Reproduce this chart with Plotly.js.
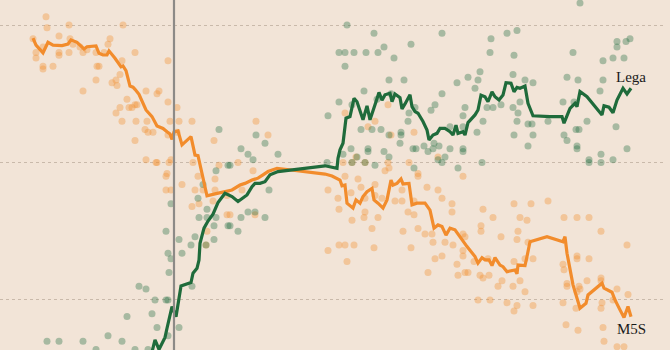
<!DOCTYPE html>
<html>
<head>
<meta charset="utf-8">
<script src="https://cdn.plot.ly/plotly-3.0.1.min.js"></script>
<style>html,body{margin:0;padding:0;background:#f2e4d7;}#chart{width:670px;height:350px;}</style>
</head>
<body>
<div id="chart"></div>
<script>
// x = days since the 4 March 2018 general election, y = voting intention (%)
const electionDay = 0;
const gridValues = [20, 25, 30];

const m5sAvgDays = [-141,-138,-131,-126,-121,-112,-106,-103,-97,-90,-87,-78,-75,-71,-67,-65,-59,-53,-51,-48,-44,-41,-39,-35,-28,-22,-17,-11,-7,-4,-2,0,4,8,17,21,24,28,30,33,41,51,58,66,71,78,84,89,94,103,111,124,141,151,158,166,168,171,173,177,179,182,186,189,193,198,200,204,209,213,217,219,223,227,229,235,238,243,251,256,260,264,268,272,276,281,289,293,301,304,308,311,315,318,321,326,329,333,341,343,344,351,353,356,373,389,391,393,399,404,406,412,414,428,430,438,441,446,450,454,457];
const m5sAvg = [29.52,29.27,28.99,29.37,29.27,29.25,29.31,29.46,29.37,29.13,29.21,29.24,28.97,28.91,28.91,29.06,28.79,28.48,28.51,28.34,27.78,27.74,27.66,27.48,26.91,26.67,26.33,26.24,26.12,26.04,25.84,26.11,26.15,25.64,25.94,25.27,25.25,24.55,24.24,23.79,23.86,23.94,24.0,24.18,24.24,24.36,24.43,24.55,24.67,24.79,24.76,24.7,24.63,24.58,24.51,24.36,24.15,24.18,23.52,23.39,23.34,23.64,23.52,23.76,23.94,24.06,23.64,23.52,23.34,23.64,24.36,24.18,24.24,24.4,24.22,24.24,23.46,23.52,23.52,23.27,22.61,22.73,22.67,22.36,22.61,22.55,22.12,21.94,21.58,21.34,21.54,21.46,21.46,21.25,21.54,21.27,21.21,21.03,21.09,20.95,21.27,21.25,21.58,22.12,22.3,22.12,22.3,21.7,20.55,20.0,19.7,19.88,20.18,20.61,20.43,20.28,20.0,19.64,19.36,19.76,19.39];

const legaAvgDays = [-23,-19,-15,-9,-7,-2,2,7,17,19,23,25,26,30,34,39,44,48,51,58,64,73,78,81,86,91,96,104,118,138,151,163,164,166,169,172,176,180,183,189,193,196,199,202,205,208,211,216,218,221,226,228,231,236,238,241,244,249,253,255,259,263,266,271,276,279,282,284,289,291,294,301,304,307,311,314,318,321,325,329,332,337,340,343,346,351,354,359,376,388,390,396,401,403,406,413,428,430,435,439,443,449,453,457];
const legaAvg = [17.96,18.55,18.2,18.64,18.97,19.76,19.39,20.51,20.63,20.97,21.15,21.45,22.06,22.61,22.87,23.12,23.54,23.72,23.88,23.76,23.58,23.82,24.12,24.24,24.24,24.3,24.55,24.67,24.73,24.83,24.88,24.79,25.15,25.46,25.7,26.61,26.67,27.33,27.21,26.55,27.06,26.55,26.85,27.21,27.55,27.27,27.46,27.52,27.21,27.49,27.36,26.95,27.13,27.46,27.03,26.85,26.79,26.49,26.18,25.82,26.0,26.06,26.24,26.24,26.12,26.0,26.36,26.06,26.12,26.0,26.45,26.73,26.91,27.45,27.39,27.21,27.57,27.39,27.27,27.45,27.9,27.88,27.57,27.73,27.7,27.78,27.15,26.7,26.67,26.67,26.43,26.97,27.15,27.03,27.58,27.39,26.73,27.06,27.01,26.81,27.27,27.7,27.49,27.7];

const m5sPollDays = [-128,-127,-105,-51,-115,-141,-104,-64,-66,-131,-101,-94,-138,-138,-115,-115,-105,-91,-87,-78,-70,-39,-52,-6,-131,-131,-121,-77,-75,-78,-62,-58,-57,-54,-91,-28,-17,-15,-47,-6,3,-54,-45,-42,-39,-37,-58,-52,-38,-27,-4,5,18,-29,-26,-21,-6,3,-39,40,-28,-18,-17,-3,-5,19,-7,45,
  -8,-8,-3,8,24,41,21,29,41,39,53,18,25,33,53,32,
  82,94,64,79,171,194,201,214,217,240,182,169,214,215,211,235,264,244,178,191,
  154,171,184,164,165,177,187,201,191,201,208,228,244,253,264,268,240,221,228,191,190,204,178,234,240,198,229,244,251,258,259,271,165,171,180,154,200,237,268,261,173,254,68,81,56,
  289,278,278,309,340,357,374,319,346,353,390,403,415,307,307,344,327,343,289,291,279,354,289,289,314,351,359,403,403,415,453,427,283,300,340,389,390,291,294,284,306,309,315,328,324,339,346,351,393,393,405,413,427,427,443,454,403,406,304,316,333,359,343,340,389,428,427,439,402,392,404,429,430,443,450];
const m5sPollValues = [30.3,29.9,30.0,30.0,29.6,29.5,29.5,29.5,29.3,29.2,29.3,29.2,29.0,28.8,29.0,28.9,29.0,29.0,29.1,29.0,29.0,29.0,28.7,28.7,28.5,28.4,28.5,28.5,28.5,28.0,27.9,28.0,27.8,28.2,27.6,27.6,27.5,27.6,27.3,27.2,27.0,27.0,27.0,27.0,27.1,27.1,26.8,26.5,26.5,26.5,26.5,26.5,26.5,26.2,26.1,26.1,26.0,26.1,25.8,25.8,25.1,25.0,25.0,25.1,25.0,25.0,24.6,24.9,
  24.5,24.0,24.0,24.2,24.5,24.4,24.0,24.0,24.0,23.6,23.8,23.4,23.5,22.5,23.1,22.0,
  26.5,26.0,25.0,24.7,26.8,26.3,26.5,27.1,26.0,26.1,25.2,25.0,25.0,24.8,24.7,25.0,25.2,24.6,25.0,25.0,
  24.0,24.5,24.4,23.7,23.3,23.9,24.1,24.2,23.7,23.8,23.7,24.0,24.5,24.1,24.0,23.7,23.6,23.6,23.6,23.2,23.0,23.0,22.9,23.2,23.1,22.6,22.5,22.6,22.4,22.4,22.1,22.1,22.0,22.0,22.0,21.8,21.9,21.9,21.6,21.5,21.4,21.0,24.0,23.1,23.1,
  24.5,23.5,23.2,23.3,23.5,23.5,23.6,23.0,23.0,22.9,23.0,23.0,23.0,22.7,22.5,22.5,22.3,22.2,22.4,22.3,22.0,22.1,21.8,21.6,21.5,21.5,21.5,21.6,21.5,21.5,22.0,22.5,21.3,21.4,21.4,21.3,21.1,21.0,21.0,20.9,20.9,20.8,20.9,20.7,20.5,20.5,20.7,20.3,20.6,20.5,20.5,20.7,20.8,20.7,20.4,20.2,20.3,20.4,20.0,20.0,19.9,19.8,19.8,19.6,19.9,19.9,19.7,20.0,19.7,19.1,18.9,19.0,18.5,18.3,18.3];

const legaPollDays = [45,42,54,
  -3,29,24,33,25,33,42,40,54,-8,21,17,5,40,32,-6,8,-3,-5,18,-35,-28,-19,-8,-6,-47,-22,-17,5,-6,-127,-115,-91,-66,-52,-78,-39,-26,
  173,200,268,210,237,165,171,180,192,204,220,171,215,230,190,268,165,154,178,203,217,241,261,257,235,234,187,198,207,215,227,227,226,82,91,104,67,74,79,177,169,194,194,210,215,239,242,250,254,260,265,259,271,264,268,240,201,178,191,153,183,56,
  95,74,81,67,91,64,56,
  406,333,343,317,316,399,340,429,439,450,443,443,452,456,306,294,283,304,301,339,351,359,393,404,429,426,291,289,313,319,327,339,346,344,389,400,309,343,354,358,374,413,289,303,340,359,390,402,405,442,393,354,403,403,453,276,289,289,427,415,415,427,439,308,284,276];
const legaPollValues = [26.2,24.7,24.9,
  23.5,24.2,23.7,23.3,23.0,23.0,23.0,22.7,22.7,22.5,22.3,22.0,22.2,22.2,22.0,21.7,21.7,21.5,21.0,20.5,20.5,20.4,20.0,20.0,20.0,19.4,19.5,19.0,19.0,18.7,18.5,18.5,18.5,18.7,18.5,18.2,18.2,18.2,
  30.0,29.7,29.7,29.2,29.3,29.0,29.0,29.0,29.0,29.0,28.8,28.5,28.0,28.0,27.6,27.5,27.2,26.7,27.1,27.3,27.5,27.0,27.1,26.9,26.8,26.5,26.2,26.2,26.2,26.0,26.1,26.0,25.7,26.0,25.7,25.3,25.5,25.3,25.1,25.5,25.3,25.5,25.4,25.4,25.2,25.5,25.5,25.6,25.4,25.7,25.6,25.5,25.2,25.1,25.0,24.8,24.9,25.0,25.0,25.0,25.2,24.9,
  24.0,23.2,23.2,23.0,23.0,22.5,22.7,
  30.8,29.7,29.8,29.5,29.0,29.0,28.9,28.7,28.8,28.8,29.4,29.2,29.4,29.5,28.3,28.1,27.9,28.0,27.7,28.2,28.0,27.9,28.1,28.0,28.0,27.6,27.0,26.7,27.0,27.0,27.1,27.0,27.2,26.8,27.2,27.2,26.5,26.5,26.4,26.4,26.5,26.5,26.3,26.1,26.0,26.0,26.0,26.2,26.2,26.3,25.8,25.6,25.6,25.5,25.5,25.5,25.5,25.4,25.3,25.1,25.0,25.0,25.1,25.0,24.8,26.3];

const partyNames = ['Lega', 'M5S'];
const orange = '#f28c2c';
const green = '#1f6b3b';

const traces = [
  {x: m5sPollDays, y: m5sPollValues, type: 'scatter', mode: 'markers',
   marker: {size: 7, color: 'rgba(242,140,44,0.36)'}, hoverinfo: 'skip'},
  {x: legaPollDays, y: legaPollValues, type: 'scatter', mode: 'markers',
   marker: {size: 7, color: 'rgba(30,107,60,0.35)'}, hoverinfo: 'skip'},
  {x: m5sAvgDays, y: m5sAvg, type: 'scatter', mode: 'lines',
   line: {color: orange, width: 3.2}},
  {x: legaAvgDays, y: legaAvg, type: 'scatter', mode: 'lines',
   line: {color: green, width: 3.2}}
];

const layout = {
  width: 670, height: 350,
  margin: {l: 0, r: 7, t: 0, b: 0, pad: 0},
  paper_bgcolor: '#f2e4d7', plot_bgcolor: '#f2e4d7',
  showlegend: false,
  xaxis: {range: [-174, 489], showgrid: false, zeroline: false,
          showticklabels: false, ticks: '', showline: false},
  yaxis: {range: [18.18, 30.91], tickvals: gridValues, showticklabels: false,
          ticks: '', showgrid: true, gridcolor: '#c9b9aa', griddash: 'dot',
          gridwidth: 1, zeroline: false, showline: false},
  shapes: [{type: 'line', xref: 'x', yref: 'paper', x0: electionDay, x1: electionDay,
            y0: 0, y1: 1, line: {color: '#8d8a87', width: 2.2}, layer: 'above'}],
  annotations: [
    {x: legaAvgDays[legaAvgDays.length-1], y: 28.11, xref: 'x', yref: 'y', text: partyNames[0],
     showarrow: false, xanchor: 'center', yanchor: 'middle',
     font: {family: 'Liberation Serif, DejaVu Serif, serif', size: 15, color: '#1a1a1a'}},
    {x: m5sAvgDays[m5sAvgDays.length-1], y: 18.95, xref: 'x', yref: 'y', text: partyNames[1],
     showarrow: false, xanchor: 'center', yanchor: 'middle',
     font: {family: 'Liberation Serif, DejaVu Serif, serif', size: 15, color: '#1a1a1a'}}
  ]
};

Plotly.newPlot('chart', traces, layout, {displayModeBar: false, staticPlot: true});
</script>
</body>
</html>
